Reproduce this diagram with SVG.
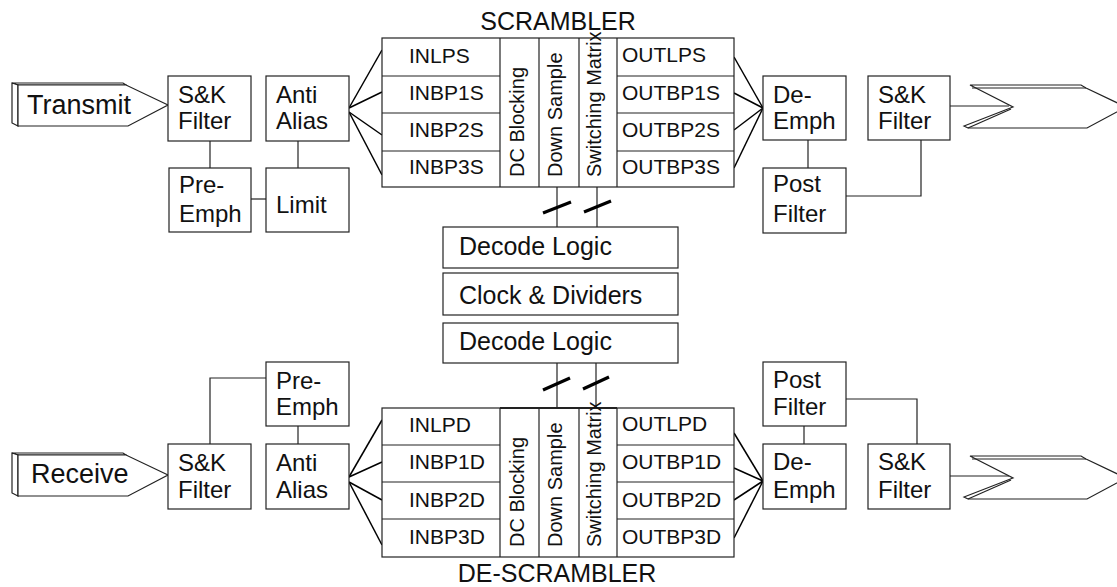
<svg xmlns="http://www.w3.org/2000/svg" width="1117" height="587" viewBox="0 0 1117 587">
<style>
.box{fill:#fff;stroke:#222;stroke-width:1.2}
.ln{fill:none;stroke:#222;stroke-width:1.2}
.fan{fill:none;stroke:#000;stroke-width:1.5}
.sl{fill:none;stroke:#000;stroke-width:3.2}
.shp{fill:#fff;stroke:#222;stroke-width:1.2;stroke-linejoin:miter}
text{font-family:"Liberation Sans",Arial,Helvetica,sans-serif;fill:#111}
.b{font-size:24px}
.r{font-size:21px}
.v{font-size:20px}
.big{font-size:27px}
.ttl{font-size:25px}
</style>
<rect width="1117" height="587" fill="#fff"/>

<g id="connectors">
  <line class="ln" x1="210" y1="141" x2="210" y2="168"/>
  <line class="ln" x1="298" y1="141" x2="298" y2="168"/>
  <line class="ln" x1="251" y1="199" x2="266" y2="199"/>
  <line class="fan" x1="349" y1="108" x2="382" y2="50"/>
  <line class="fan" x1="349" y1="108" x2="382" y2="92"/>
  <line class="fan" x1="349" y1="112" x2="382" y2="135"/>
  <line class="fan" x1="349" y1="112" x2="382" y2="175"/>
  <line class="fan" x1="734" y1="57" x2="763" y2="108"/>
  <line class="fan" x1="734" y1="93" x2="763" y2="108"/>
  <line class="fan" x1="734" y1="130" x2="763" y2="108"/>
  <line class="fan" x1="734" y1="168" x2="763" y2="108"/>
  <line class="ln" x1="808" y1="140" x2="808" y2="168"/>
  <polyline class="ln" points="846,196 921,196 921,140"/>
  <line class="ln" x1="950" y1="106" x2="1009" y2="106"/>
  <line class="ln" x1="557" y1="187" x2="557" y2="227"/>
  <line class="ln" x1="597" y1="187" x2="597" y2="227"/>
  <line class="sl" x1="543" y1="213" x2="571" y2="202"/>
  <line class="sl" x1="584" y1="212" x2="611" y2="201"/>
  <line class="ln" x1="557" y1="363" x2="557" y2="408"/>
  <line class="ln" x1="596" y1="363" x2="596" y2="408"/>
  <line class="sl" x1="543" y1="390" x2="570" y2="378"/>
  <line class="sl" x1="583" y1="389" x2="609" y2="377"/>
  <polyline class="ln" points="210,444 210,378 266,378"/>
  <line class="ln" x1="298" y1="426" x2="298" y2="444"/>
  <line class="fan" x1="349" y1="477" x2="382" y2="420"/>
  <line class="fan" x1="349" y1="477" x2="382" y2="462"/>
  <line class="fan" x1="349" y1="482" x2="382" y2="500"/>
  <line class="fan" x1="349" y1="482" x2="382" y2="545"/>
  <line class="fan" x1="734" y1="433" x2="763" y2="481"/>
  <line class="fan" x1="734" y1="468" x2="763" y2="481"/>
  <line class="fan" x1="734" y1="500" x2="763" y2="481"/>
  <line class="fan" x1="734" y1="538" x2="763" y2="481"/>
  <line class="ln" x1="804" y1="426" x2="804" y2="444"/>
  <polyline class="ln" points="846,399 917,399 917,444"/>
  <line class="ln" x1="950" y1="476" x2="1009" y2="476"/>
</g>

<g id="transmit">
  <polygon class="shp" points="12,83 123,83 126,85 18,85"/>
  <polygon class="shp" points="12,83 18,85 18,126 12,123"/>
  <polygon class="shp" points="18,85 126,85 168,105 128,126 18,126"/>
  <text class="big" x="27" y="114">Transmit</text>
</g>
<g id="receive" transform="translate(0,370)">
  <polygon class="shp" points="12,83 123,83 126,85 18,85"/>
  <polygon class="shp" points="12,83 18,85 18,126 12,123"/>
  <polygon class="shp" points="18,85 126,85 168,105 128,126 18,126"/>
  <text class="big" x="31" y="113">Receive</text>
</g>

<g id="tx-sk-filter">
  <rect class="box" x="168" y="76" width="83" height="65"/>
  <text class="b" x="178" y="103">S&amp;K</text>
  <text class="b" x="178" y="129">Filter</text>
</g>
<g id="tx-anti-alias">
  <rect class="box" x="266" y="76" width="83" height="65"/>
  <text class="b" x="276" y="103">Anti</text>
  <text class="b" x="276" y="129">Alias</text>
</g>
<g id="tx-pre-emph">
  <rect class="box" x="169" y="168" width="82" height="64"/>
  <text class="b" x="179" y="193">Pre-</text>
  <text class="b" x="179" y="222">Emph</text>
</g>
<g id="tx-limit">
  <rect class="box" x="266" y="168" width="83" height="64"/>
  <text class="b" x="276" y="213">Limit</text>
</g>

<g id="scrambler">
  <text class="ttl" x="558" y="30" text-anchor="middle">SCRAMBLER</text>
  <rect class="box" x="382" y="38" width="352" height="149"/>
  <line class="ln" x1="500" y1="38" x2="500" y2="187"/>
  <line class="ln" x1="539" y1="38" x2="539" y2="187"/>
  <line class="ln" x1="579" y1="38" x2="579" y2="187"/>
  <line class="ln" x1="617" y1="38" x2="617" y2="187"/>
  <line class="ln" x1="382" y1="76" x2="500" y2="76"/>
  <line class="ln" x1="382" y1="113" x2="500" y2="113"/>
  <line class="ln" x1="382" y1="151" x2="500" y2="151"/>
  <line class="ln" x1="617" y1="76" x2="734" y2="76"/>
  <line class="ln" x1="617" y1="113" x2="734" y2="113"/>
  <line class="ln" x1="617" y1="151" x2="734" y2="151"/>
  <text class="r" x="409" y="63">INLPS</text>
  <text class="r" x="409" y="100">INBP1S</text>
  <text class="r" x="409" y="137">INBP2S</text>
  <text class="r" x="409" y="174">INBP3S</text>
  <text class="r" x="622" y="62">OUTLPS</text>
  <text class="r" x="622" y="100">OUTBP1S</text>
  <text class="r" x="622" y="137">OUTBP2S</text>
  <text class="r" x="622" y="174">OUTBP3S</text>
  <text class="v" transform="translate(524,177) rotate(-90)">DC Blocking</text>
  <text class="v" transform="translate(562,177) rotate(-90)">Down Sample</text>
  <text class="v" transform="translate(601,177) rotate(-90)">Switching Matrix</text>
</g>

<g id="tx-de-emph">
  <rect class="box" x="763" y="76" width="83" height="64"/>
  <text class="b" x="773" y="103">De-</text>
  <text class="b" x="773" y="129">Emph</text>
</g>
<g id="tx-out-sk-filter">
  <rect class="box" x="868" y="76" width="82" height="64"/>
  <text class="b" x="878" y="103">S&amp;K</text>
  <text class="b" x="878" y="129">Filter</text>
</g>
<g id="tx-post-filter">
  <rect class="box" x="763" y="168" width="83" height="65"/>
  <text class="b" x="773" y="192">Post</text>
  <text class="b" x="773" y="222">Filter</text>
</g>
<g id="tx-output">
  <polygon class="shp" points="970,85 1081,85 1086,88 1126,107 1087,128 968,128 964,126 1013,107"/>
  <line class="ln" x1="972" y1="88" x2="1086" y2="88"/>
  <line class="ln" x1="968" y1="128" x2="1011" y2="109"/>
</g>

<g id="decode-logic-top">
  <rect class="box" x="443" y="227" width="235" height="41"/>
  <text class="b" x="459" y="255" style="font-size:25px">Decode Logic</text>
</g>
<g id="clock-dividers">
  <rect class="box" x="443" y="273" width="235" height="42"/>
  <text class="b" x="459" y="304" style="font-size:25px">Clock &amp; Dividers</text>
</g>
<g id="decode-logic-bottom">
  <rect class="box" x="443" y="323" width="235" height="40"/>
  <text class="b" x="459" y="350" style="font-size:25px">Decode Logic</text>
</g>

<g id="rx-pre-emph">
  <rect class="box" x="266" y="362" width="83" height="64"/>
  <text class="b" x="276" y="389">Pre-</text>
  <text class="b" x="276" y="415">Emph</text>
</g>
<g id="rx-sk-filter">
  <rect class="box" x="168" y="444" width="83" height="65"/>
  <text class="b" x="178" y="471">S&amp;K</text>
  <text class="b" x="178" y="498">Filter</text>
</g>
<g id="rx-anti-alias">
  <rect class="box" x="266" y="444" width="83" height="65"/>
  <text class="b" x="276" y="471">Anti</text>
  <text class="b" x="276" y="498">Alias</text>
</g>

<g id="de-scrambler">
  <rect class="box" x="382" y="408" width="352" height="149"/>
  <line class="ln" x1="500" y1="408" x2="500" y2="557"/>
  <line class="ln" x1="539" y1="408" x2="539" y2="557"/>
  <line class="ln" x1="579" y1="408" x2="579" y2="557"/>
  <line class="ln" x1="617" y1="408" x2="617" y2="557"/>
  <line class="ln" x1="500" y1="408" x2="617" y2="408" style="stroke-width:2"/>
  <line class="ln" x1="382" y1="445" x2="500" y2="445"/>
  <line class="ln" x1="382" y1="482" x2="500" y2="482"/>
  <line class="ln" x1="382" y1="519" x2="500" y2="519"/>
  <line class="ln" x1="617" y1="445" x2="734" y2="445"/>
  <line class="ln" x1="617" y1="482" x2="734" y2="482"/>
  <line class="ln" x1="617" y1="519" x2="734" y2="519"/>
  <text class="r" x="409" y="432">INLPD</text>
  <text class="r" x="409" y="469">INBP1D</text>
  <text class="r" x="409" y="507">INBP2D</text>
  <text class="r" x="409" y="544">INBP3D</text>
  <text class="r" x="622" y="431">OUTLPD</text>
  <text class="r" x="622" y="469">OUTBP1D</text>
  <text class="r" x="622" y="507">OUTBP2D</text>
  <text class="r" x="622" y="544">OUTBP3D</text>
  <text class="v" transform="translate(524,547) rotate(-90)">DC Blocking</text>
  <text class="v" transform="translate(562,547) rotate(-90)">Down Sample</text>
  <text class="v" transform="translate(601,547) rotate(-90)">Switching Matrix</text>
  <text class="ttl" x="557" y="582" text-anchor="middle">DE-SCRAMBLER</text>
</g>

<g id="rx-post-filter">
  <rect class="box" x="763" y="362" width="83" height="64"/>
  <text class="b" x="773" y="388">Post</text>
  <text class="b" x="773" y="415">Filter</text>
</g>
<g id="rx-de-emph">
  <rect class="box" x="763" y="444" width="83" height="65"/>
  <text class="b" x="773" y="470">De-</text>
  <text class="b" x="773" y="498">Emph</text>
</g>
<g id="rx-out-sk-filter">
  <rect class="box" x="868" y="444" width="82" height="65"/>
  <text class="b" x="878" y="470">S&amp;K</text>
  <text class="b" x="878" y="498">Filter</text>
</g>
<g id="rx-output" transform="translate(0,371)">
  <polygon class="shp" points="970,85 1081,85 1086,88 1126,107 1087,128 968,128 964,126 1013,107"/>
  <line class="ln" x1="972" y1="88" x2="1086" y2="88"/>
  <line class="ln" x1="968" y1="128" x2="1011" y2="109"/>
</g>
</svg>
